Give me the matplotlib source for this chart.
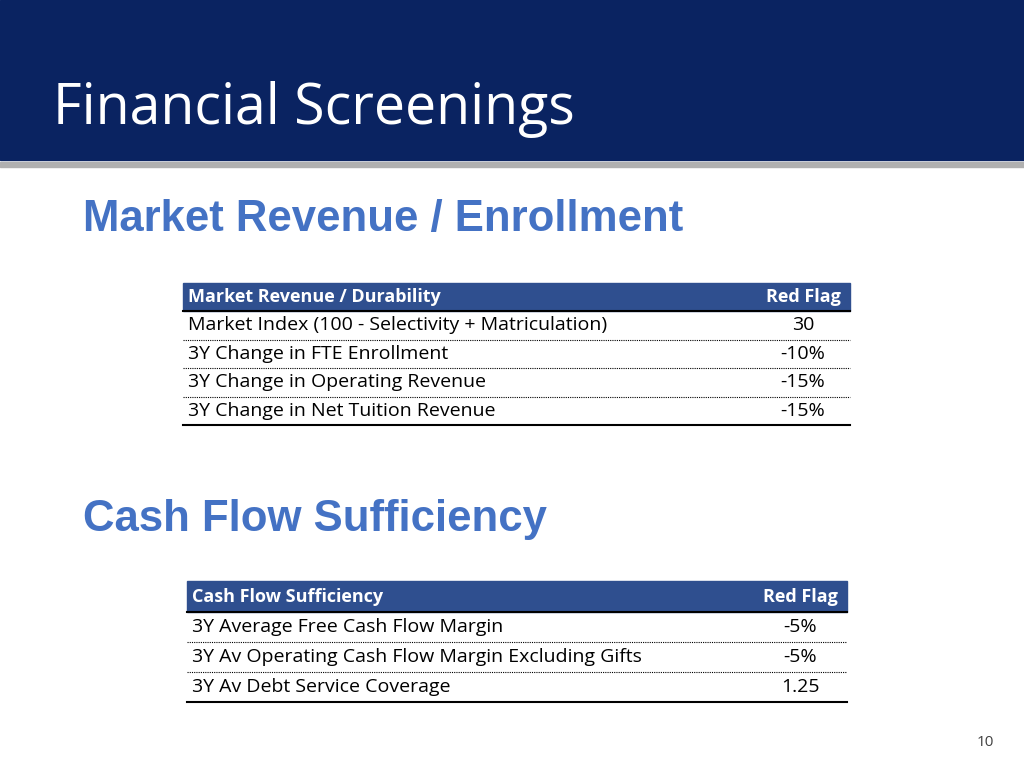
import matplotlib.pyplot as plt
from matplotlib.patches import Rectangle

# slide text
title = "Financial Screenings"
section1 = "Market Revenue / Enrollment"
section2 = "Cash Flow Sufficiency"

t1_header = ["Market Revenue / Durability", "Red Flag"]
t1_labels = ["Market Index (100 - Selectivity + Matriculation)",
             "3Y Change in FTE Enrollment",
             "3Y Change in Operating Revenue",
             "3Y Change in Net Tuition Revenue"]
t1_values = ["30", "-10%", "-15%", "-15%"]

t2_header = ["Cash Flow Sufficiency", "Red Flag"]
t2_labels = ["3Y Average Free Cash Flow Margin",
             "3Y Av Operating Cash Flow Margin Excluding Gifts",
             "3Y Av Debt Service Coverage"]
t2_values = ["-5%", "-5%", "1.25"]

page = "10"

navy = "#0a2361"
head_blue = "#2f4f8f"
title_blue = "#4472c4"

fig = plt.figure(figsize=(10.24, 7.68), dpi=100)
ax = fig.add_axes([0, 0, 1, 1])
ax.set_xlim(0, 1024)
ax.set_ylim(768, 0)
ax.set_axis_off()

# header band
ax.add_patch(Rectangle((0, 0), 1024, 160, color=navy))
ax.add_patch(Rectangle((0, 162), 1024, 5, color="#b0b0b0"))
ax.text(53, 110, title, color="white", fontsize=40, family="Open Sans", va="center")

ax.text(83, 220, section1, color=title_blue, fontsize=31.5, weight="bold",
        family="Liberation Sans", va="center")
ax.text(83, 519, section2, color=title_blue, fontsize=31.5, weight="bold",
        family="Liberation Sans", va="center")


def draw_table(x0, x1, top, head_h, row_h, header, labels, values, vx):
    ax.add_patch(Rectangle((x0, top), x1 - x0, head_h, color=head_blue))
    ax.plot([x0, x1], [top + head_h, top + head_h], color="black", lw=1.5)
    hy = top + head_h / 2
    ax.text(x0 + 5, hy, header[0], color="white", fontsize=13, weight="bold",
            family="Open Sans", va="center")
    ax.text(vx, hy, header[1], color="white", fontsize=13, weight="bold",
            family="Open Sans", va="center", ha="center")
    y = top + head_h
    for i, (lab, val) in enumerate(zip(labels, values)):
        cy = y + row_h / 2
        ax.text(x0 + 5, cy, lab, fontsize=14, family="Open Sans", va="center")
        ax.text(vx, cy, val, fontsize=14, family="Open Sans", va="center", ha="center")
        y += row_h
        last = i == len(labels) - 1
        ax.plot([x0, x1], [y, y], color="black",
                lw=1.5 if last else 0.8, ls="-" if last else (0, (1, 1)))


draw_table(183, 850, 283, 28, 28.5, t1_header, t1_labels, t1_values, 803)
draw_table(187, 847, 581, 31, 30, t2_header, t2_labels, t2_values, 800)

ax.text(985, 743, page, fontsize=11, color="#404040", family="Open Sans",
        ha="center", va="center")

fig.savefig("out.png", dpi=100)
